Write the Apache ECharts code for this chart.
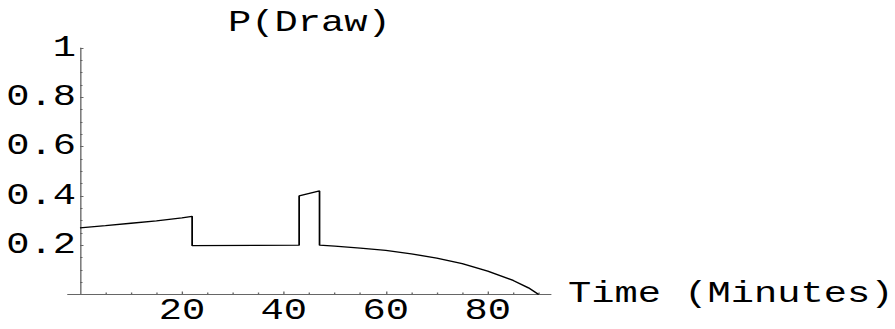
<!DOCTYPE html>
<html>
<head>
<meta charset="utf-8">
<script src="https://cdn.jsdelivr.net/npm/echarts@6/dist/echarts.min.js"></script>
<style>
  html, body { margin: 0; padding: 0; background: #fff; overflow: hidden; }
  #wrap { width: 895px; height: 329px; overflow: hidden; }
  #chart { height: 329px; transform-origin: 0 0; }
</style>
</head>
<body>
<div id="wrap"><div id="chart"></div></div>
<script>
// Probability of a draw across the 90 minutes of a match
const firstSpell = [[0, 0.270], [5, 0.279], [10, 0.289], [15, 0.299], [20, 0.311], [22, 0.317]];
const levelSpell = [[22, 0.198], [43, 0.200]];
const peakSpell = [[43, 0.400], [47, 0.420]];
const lateSpell = [[47, 0.200], [50, 0.196], [55, 0.188], [60, 0.179], [65, 0.165], [70, 0.148],
                   [75, 0.125], [80, 0.095], [85, 0.057], [88, 0.027], [90, 0.0]];

const xMajorTicks = [20, 40, 60, 80];
const xMinorTicks = [5, 10, 15, 25, 30, 35, 45, 50, 55, 65, 70, 75, 85, 90];
const yTickLabels = [0.2, 0.4, 0.6, 0.8, 1];

const yTitle = 'P(Draw)';
const xTitle = 'Time (Minutes)';

// The typewriter face is set wide, so the drawing is laid out
// narrower and stretched back out horizontally.
const STRETCH = 1.336;
const W = 895 / STRETCH;
const chartEl = document.getElementById('chart');
chartEl.style.width = W + 'px';
chartEl.style.transform = 'scaleX(' + STRETCH + ')';

const sx = v => v / STRETCH;          // screen x -> layout x
const FONT = '"Liberation Mono", "Courier New", monospace';
const FS = 29;
const AXIS = '#666666';

const xMax = 92.4;
const xStub = -2.4;                    // axis line runs a little left of zero
const unit = 5.095;                    // pixels per minute on screen
const zeroX = 80;
const gridRight = W - sx(zeroX + xMax * unit);
const gridTop = 48;
const gridBottom = 329 - 294.5;

const series = [firstSpell, levelSpell, peakSpell, lateSpell];
const joined = [];
series.forEach(s => s.forEach(p => joined.push(p)));

const labelStyle = { fontFamily: FONT, fontSize: FS, color: '#000' };

const chart = echarts.init(chartEl, null, { renderer: 'svg' });
chart.setOption({
  animation: false,
  backgroundColor: '#fff',
  title: {
    text: yTitle,
    left: sx(228),
    top: 9,
    padding: 0,
    textStyle: { fontFamily: FONT, fontSize: FS, fontWeight: 'normal', color: '#000' }
  },
  grid: [
    // plotting area, starting at minute 0
    { left: sx(zeroX), right: gridRight, top: gridTop, bottom: gridBottom, outerBoundsMode: 'none' },
    // same area widened to carry the horizontal axis line
    { left: sx(zeroX + xStub * unit), right: gridRight, top: gridTop, bottom: gridBottom, outerBoundsMode: 'none' }
  ],
  xAxis: [{
    gridIndex: 0, type: 'value', min: 0, max: xMax,
    splitLine: { show: false },
    axisLine: { show: false },
    axisTick: { show: true, inside: true, length: 3, customValues: xMajorTicks,
                lineStyle: { color: AXIS, width: 1 } },
    axisLabel: Object.assign({ show: true, customValues: xMajorTicks, margin: 2.5 }, labelStyle),
    name: xTitle, nameLocation: 'end', nameGap: sx(17),
    nameTextStyle: Object.assign({ align: 'left', verticalAlign: 'middle' }, labelStyle)
  }, {
    gridIndex: 0, type: 'value', min: 0, max: xMax, position: 'bottom',
    splitLine: { show: false },
    axisLine: { show: false },
    axisTick: { show: true, inside: true, length: 2, customValues: xMinorTicks,
                lineStyle: { color: AXIS, width: 1 } },
    axisLabel: { show: false }
  }, {
    gridIndex: 1, type: 'value', min: xStub, max: xMax,
    splitLine: { show: false },
    axisLine: { show: true, onZero: false, lineStyle: { color: AXIS, width: 1 } },
    axisTick: { show: false },
    axisLabel: { show: false }
  }],
  yAxis: [{
    gridIndex: 0, type: 'value', min: 0, max: 1, interval: 0.2,
    splitLine: { show: false },
    axisLine: { show: true, onZero: false, lineStyle: { color: AXIS, width: 1 } },
    axisTick: { show: true, inside: true, length: sx(3.5), lineStyle: { color: AXIS, width: 1 } },
    minorTick: { show: true, splitNumber: 4, length: sx(2.5), lineStyle: { color: AXIS, width: 1 } },
    axisLabel: Object.assign({ show: true, customValues: yTickLabels, margin: sx(4) }, labelStyle)
  }, {
    gridIndex: 1, type: 'value', min: 0, max: 1, show: false
  }],
  series: [{
    type: 'line',
    xAxisIndex: 0,
    yAxisIndex: 0,
    data: joined,
    showSymbol: false,
    symbol: 'none',
    lineStyle: { color: '#000', width: 1.3 },
    silent: true
  }]
});
</script>
</body>
</html>
